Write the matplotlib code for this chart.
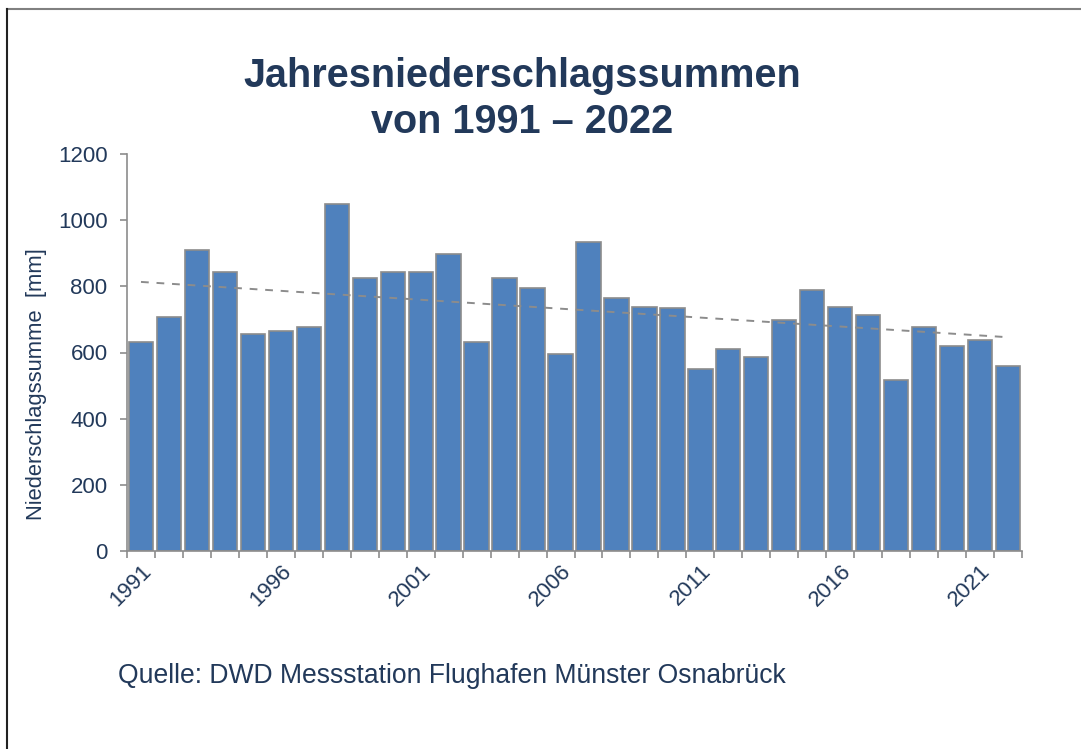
import matplotlib
matplotlib.use("Agg")
import matplotlib.pyplot as plt
from matplotlib.lines import Line2D
import numpy as np

# Jahresniederschlag Münster/Osnabrück 1991-2022 (mm)
years = list(range(1991, 2023))
values = [633, 708, 909, 842, 656, 664, 677, 1049, 826, 842,
          842, 899, 633, 826, 796, 595, 935, 765, 739, 734,
          550, 612, 585, 698, 790, 739, 712, 516, 677, 620,
          637, 559]
trend_years = 31  # Trendlinie reicht bis 2021
yticks = [0, 200, 400, 600, 800, 1000, 1200]

text_col = "#22395a"
bar_col = "#4f81bd"
edge_col = "#8c8c8c"

plt.rcParams["font.family"] = ["Liberation Sans", "DejaVu Sans"]

fig = plt.figure(figsize=(10.81, 7.49), dpi=100)
ax = fig.add_axes([127 / 1081, 1 - 551 / 749, (1022 - 127) / 1081, (551 - 154) / 749])

x = np.arange(len(years))
ax.bar(x, values, width=0.87, color=bar_col, edgecolor=edge_col, linewidth=1.2, zorder=2)

# linearer Trend
k, d = np.polyfit(x[:trend_years], values[:trend_years], 1)
tx = np.array([0, trend_years - 0.2])
ax.plot(tx, k * tx + d, ls=(0, (4, 4)), color="#8c8c8c", lw=1.4, zorder=3)

ax.set_xlim(-0.5, len(years) - 0.5)
ax.set_ylim(0, 1200)
ax.set_yticks(yticks)
ax.set_yticklabels([str(v) for v in yticks], fontsize=16, color=text_col)

# Teilstriche an den Kategoriegrenzen, Beschriftung alle 5 Jahre
ax.set_xticks(np.arange(-0.5, len(years), 1.0), minor=True)
ax.set_xticks([i for i, yr in enumerate(years) if (yr - 1991) % 5 == 0])
ax.set_xticklabels([str(yr) for yr in years if (yr - 1991) % 5 == 0],
                   rotation=45, ha="right", rotation_mode="anchor",
                   fontsize=16, color=text_col)
ax.tick_params(axis="x", which="major", length=0, pad=7)
ax.tick_params(axis="x", which="minor", length=5, color=edge_col, width=1.2)
ax.tick_params(axis="y", length=5, color=edge_col, width=1.2, pad=9)

for s in ["top", "right"]:
    ax.spines[s].set_visible(False)
for s in ["left", "bottom"]:
    ax.spines[s].set_color(edge_col)
    ax.spines[s].set_linewidth(1.2)

fig.text(522 / 1081, 1 - 99 / 749, "Jahresniederschlagssummen\nvon 1991 – 2022",
         ha="center", va="center", fontsize=28.5, fontweight="bold",
         color=text_col, linespacing=1.25)
fig.text(37 / 1081, 1 - 384 / 749, "Niederschlagssumme  [mm]", rotation=90,
         ha="center", va="center", fontsize=15.8, color=text_col)
fig.text(118 / 1081, 1 - 676 / 749, "Quelle: DWD Messstation Flughafen Münster Osnabrück",
         ha="left", va="center", fontsize=19.1, color=text_col)

# Rahmen oben und links
fig.add_artist(Line2D([7 / 1081, 1], [1 - 9 / 749] * 2, color="#808080", lw=1.5))
fig.add_artist(Line2D([7 / 1081] * 2, [0, 1 - 9 / 749], color="#222222", lw=1.5))

fig.savefig("out.png", dpi=100)
